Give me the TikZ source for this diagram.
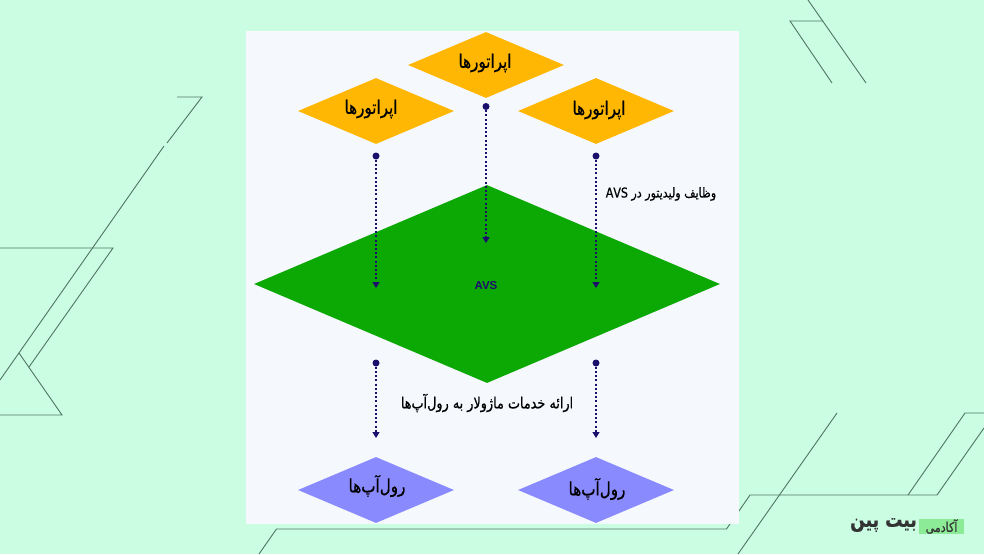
\documentclass[tikz,border=0pt]{standalone}
\usepackage{fontspec}
\usetikzlibrary{shapes.geometric,arrows.meta}
\setsansfont{Liberation Sans}
\newfontfamily\fafont[Script=Arabic,FakeStretch=0.82,FakeBold=0.6]{DejaVu Sans}
\TeXXeTstate=1
\definecolor{mint}{HTML}{CBFDE3}
\definecolor{panelblue}{HTML}{F5F9FE}
\definecolor{opyellow}{HTML}{FFB703}
\definecolor{avsgreen}{HTML}{0CA804}
\definecolor{rollblue}{HTML}{8A8AFF}
\definecolor{navy}{HTML}{1B0F6B}
\definecolor{deco}{HTML}{4F7565}
\definecolor{logogreen}{HTML}{8CEB97}
\tikzset{
  decoline/.style={draw=deco,line width=0.9pt},
  opbox/.style={diamond,fill=opyellow,inner sep=0,minimum width=156,minimum height=66},
  rollbox/.style={diamond,fill=rollblue,inner sep=0,minimum width=156,minimum height=66},
  dot/.style={circle,fill=navy,inner sep=0,minimum size=7},
  flow/.style={draw=navy,line width=1.2pt,dash pattern=on 2pt off 2.2pt,-{Triangle[length=6,width=7]}},
  fatext/.style={font=\fafont\fontsize{18.5}{20}\selectfont,text=black,inner sep=0}
}
\newcommand{\optext}{\beginR اپراتورها\endR}
\newcommand{\rolltext}{\beginR رول‌آپ‌ها\endR}

\begin{document}
\begin{tikzpicture}[x=1pt,y=-1pt]
    \fill [mint] (0,0) rectangle (984,554);
    \useasboundingbox (0,0) rectangle (984,554);
    \draw [decoline] (177,97) -- (202,97) -- (167,143);
    \draw [decoline] (164,146) -- (0,380);
    \draw [decoline] (0,248) -- (113,248) -- (29,367);
    \draw [decoline] (19,353) -- (62,415) -- (0,415);
    \draw [decoline] (808,0) -- (866,83);
    \draw [decoline] (823,21) -- (790,21) -- (832,83);
    \draw [decoline] (259,554) -- (276.5,529) -- (726.5,529) -- (750,495) -- (937,495) -- (984,428);
    \draw [decoline] (908,495) -- (965,413) -- (984,413);
    \draw [decoline] (837,413) -- (738,554);
    \fill [panelblue] (246,31) rectangle (739,524);

    \node [opbox,label={[fatext,shift={(-1,-2)}]center:\optext}] (opTop) at (486,65) {};
    \node [opbox,label={[fatext,shift={(-5,-2)}]center:\optext}] (opLeft) at (376,111) {};
    \node [opbox,label={[fatext,shift={(3,-1)}]center:\optext}] (opRight) at (596,111) {};
    \node [diamond,fill=avsgreen,inner sep=0,minimum width=466,minimum height=198] (avs) at (487,284) {};
    \node [font=\sffamily\bfseries\fontsize{11.5}{13}\selectfont,text=navy,inner sep=0] (avsText) at (486,285.5) {AVS};
    \node [rollbox,label={[fatext,shift={(1,-4)}]center:\rolltext}] (rollLeft) at (376,490) {};
    \node [rollbox,label={[fatext,shift={(1,-1)}]center:\rolltext}] (rollRight) at (596,490) {};

    \node [fatext,font=\fafont\fontsize{13.5}{15}\selectfont] (duty) at (661,194) {\beginR وظایف ولیدیتور در \beginL AVS\endL\endR};
    \node [fatext,font=\fafont\fontsize{15.6}{17}\selectfont] (service) at (487,403) {\beginR ارائه خدمات ماژولار به رول‌آپ‌ها\endR};

    \node [dot] (dotTop) at (486,106.5) {};
    \node [dot] (dotLeft) at (376,156) {};
    \node [dot] (dotRight) at (596,156) {};
    \node [dot] (dotRollLeft) at (376,363) {};
    \node [dot] (dotRollRight) at (596,363) {};
    \coordinate (endTop) at (486,243);
    \coordinate (endLeft) at (376,288);
    \coordinate (endRight) at (596,288);
    \coordinate (endRollLeft) at (376,438);
    \coordinate (endRollRight) at (596,438);
    \draw [flow] (dotTop) -- (endTop);
    \draw [flow] (dotLeft) -- (endLeft);
    \draw [flow] (dotRight) -- (endRight);
    \draw [flow] (dotRollLeft) -- (endRollLeft);
    \draw [flow] (dotRollRight) -- (endRollRight);

    \node [fill=logogreen,minimum width=45,minimum height=15,inner sep=0,font=\fafont\fontsize{13.5}{14}\selectfont,text=black!80] (academy) at (941.5,526.5) {\beginR آکادمی\endR};
    \node [inner sep=0,font=\fafont\bfseries\fontsize{21}{22}\selectfont,text=black!80] (brand) at (883.5,525) {\beginR بیت پین\endR};
\end{tikzpicture}
\end{document}
